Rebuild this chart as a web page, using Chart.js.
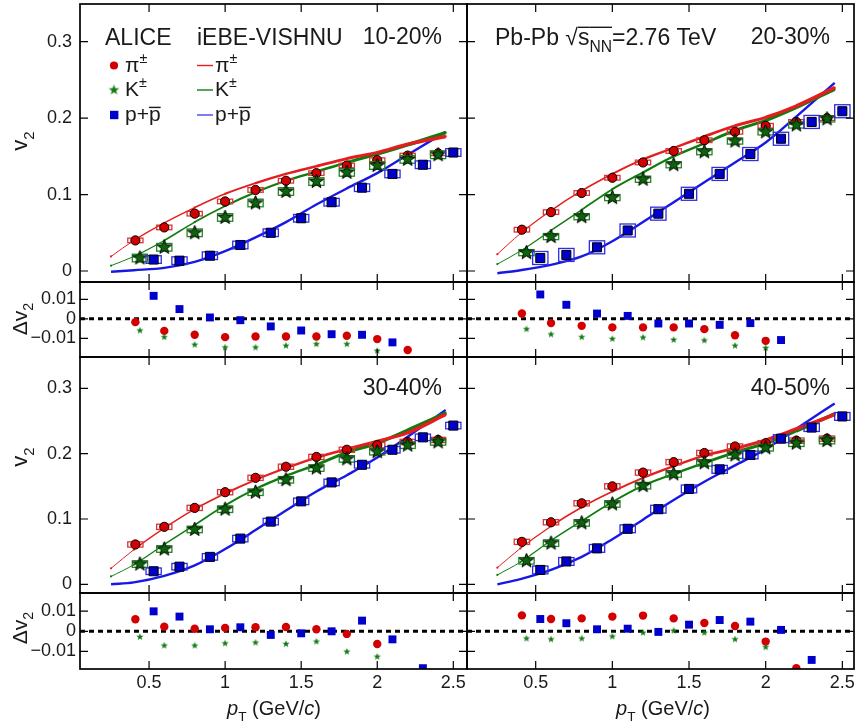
<!DOCTYPE html>
<html lang="en">
  <head>
    <meta charset="UTF-8" />
    <title>v2 of identified hadrons</title>
    <style>
      body { margin: 0; background: #fff; }
      canvas { position: absolute; }
    </style>
  </head>
  <body>
    <script src="https://cdn.jsdelivr.net/npm/chart.js"></script>
    <script>
      // pT bin centres (GeV/c)
      const piPt = [0.41, 0.6, 0.8, 1.0, 1.2, 1.4, 1.6, 1.8, 2.0, 2.2, 2.4];
      const kaPt = [0.44, 0.6, 0.8, 1.0, 1.2, 1.4, 1.6, 1.8, 2.0, 2.2, 2.4];
      const prPt = [0.53, 0.7, 0.9, 1.1, 1.3, 1.5, 1.7, 1.9, 2.1, 2.3, 2.5];
      const modelPt = [0.25, 0.4, 0.6, 0.8, 1.0, 1.2, 1.4, 1.6, 1.8, 2.0, 2.2, 2.45];

      const xTicks = [0.5, 1, 1.5, 2, 2.5];
      const xTickLabels = ['0.5', '1', '1.5', '2', '2.5'];
      const v2Ticks = [0, 0.1, 0.2, 0.3];
      const v2TickLabels = ['0', '0.1', '0.2', '0.3'];
      const dTicks = [-0.01, 0, 0.01];
      const dTickLabels = ['\u22120.01', '0', '0.01'];

      // 10-20%
      const pi1020 = [0.040, 0.057, 0.075, 0.091, 0.106, 0.118, 0.128, 0.138, 0.145, 0.151, 0.154];
      const ka1020 = [0.017, 0.031, 0.050, 0.070, 0.089, 0.104, 0.117, 0.129, 0.138, 0.146, 0.152];
      const pr1020 = [0.015, 0.0135, 0.020, 0.034, 0.050, 0.069, 0.090, 0.109, 0.127, 0.139, 0.155];
      const mPi1020 = [0.019, 0.040, 0.063, 0.083, 0.101, 0.115, 0.127, 0.137, 0.147, 0.155, 0.166, 0.176];
      const mKa1020 = [0.007, 0.019, 0.040, 0.064, 0.085, 0.103, 0.118, 0.130, 0.142, 0.153, 0.165, 0.181];
      const mPr1020 = [-0.001, 0.001, 0.004, 0.012, 0.026, 0.044, 0.064, 0.087, 0.108, 0.128, 0.152, 0.182];
      const dPi1020 = [-0.0017, -0.0062, -0.0082, -0.0094, -0.0091, -0.0091, -0.0091, -0.0087, -0.0104, -0.016];
      const dKa1020 = [-0.006, -0.0094, -0.0133, -0.0147, -0.0147, -0.0138, -0.013, -0.013, -0.0164];
      const dPr1020 = [0.0118, 0.005, 0.0007, -0.0007, -0.0039, -0.006, -0.0079, -0.0082, -0.0121];
      const sys1020 = [0.003, 0.005, 0.005];

      // 20-30%
      const pi2030 = [0.054, 0.077, 0.102, 0.122, 0.142, 0.157, 0.171, 0.182, 0.190, 0.195, 0.200];
      const ka2030 = [0.024, 0.045, 0.071, 0.096, 0.120, 0.139, 0.156, 0.170, 0.182, 0.191, 0.199];
      const pr2030 = [0.017, 0.021, 0.031, 0.053, 0.075, 0.101, 0.127, 0.153, 0.173, 0.195, 0.209];
      const mPi2030 = [0.022, 0.049, 0.079, 0.105, 0.127, 0.146, 0.161, 0.176, 0.190, 0.201, 0.216, 0.240];
      const mKa2030 = [0.009, 0.026, 0.053, 0.080, 0.107, 0.129, 0.150, 0.167, 0.184, 0.197, 0.214, 0.238];
      const mPr2030 = [-0.003, 0.001, 0.008, 0.019, 0.039, 0.064, 0.090, 0.116, 0.142, 0.168, 0.202, 0.246];
      const dPi2030 = [0.0027, -0.0022, -0.0036, -0.0044, -0.0044, -0.0044, -0.0053, -0.0084, -0.0113];
      const dKa2030 = [-0.0053, -0.008, -0.0094, -0.0103, -0.0096, -0.0108, -0.0111, -0.0138, -0.015];
      const dPr2030 = [0.0125, 0.0072, 0.0027, 0.0015, -0.0024, -0.0024, -0.0031, -0.0022, -0.0109];
      const sys2030 = [0.003, 0.004, 0.0085];

      // 30-40%
      const pi3040 = [0.061, 0.088, 0.117, 0.141, 0.163, 0.180, 0.195, 0.206, 0.213, 0.218, 0.221];
      const ka3040 = [0.031, 0.054, 0.084, 0.115, 0.141, 0.160, 0.178, 0.192, 0.203, 0.213, 0.218];
      const pr3040 = [0.020, 0.027, 0.042, 0.070, 0.096, 0.127, 0.156, 0.183, 0.206, 0.225, 0.243];
      const mPi3040 = [0.0245, 0.053, 0.086, 0.115, 0.139, 0.160, 0.178, 0.194, 0.207, 0.219, 0.232, 0.260];
      const mKa3040 = [0.012, 0.030, 0.061, 0.091, 0.121, 0.146, 0.166, 0.183, 0.202, 0.216, 0.236, 0.262];
      const mPr3040 = [0, 0.003, 0.013, 0.029, 0.054, 0.083, 0.113, 0.142, 0.167, 0.194, 0.226, 0.267];
      const dPi3040 = [0.006, 0.0023, 0.0013, 0.0017, 0.002, 0.0021, 0.001, -0.0013, -0.0063];
      const dKa3040 = [-0.0028, -0.0071, -0.0071, -0.006, -0.0056, -0.0063, -0.0051, -0.0101, -0.0126];
      const dPr3040 = [0.0099, 0.0073, 0.001, 0.002, -0.0018, -0.001, 0, 0.0053, -0.004, -0.0183];
      const sys3040 = [0.004, 0.005, 0.005];

      // 40-50%
      const pi4050 = [0.065, 0.095, 0.124, 0.150, 0.171, 0.187, 0.201, 0.211, 0.216, 0.220, 0.223];
      const ka4050 = [0.036, 0.063, 0.094, 0.123, 0.151, 0.169, 0.186, 0.198, 0.209, 0.216, 0.220];
      const pr4050 = [0.022, 0.035, 0.055, 0.085, 0.115, 0.146, 0.176, 0.198, 0.223, 0.240, 0.257];
      const mPi4050 = [0.0255, 0.055, 0.089, 0.118, 0.142, 0.163, 0.181, 0.197, 0.208, 0.221, 0.238, 0.260];
      const mKa4050 = [0.0143, 0.034, 0.067, 0.097, 0.126, 0.151, 0.169, 0.186, 0.202, 0.216, 0.235, 0.261];
      const mPr4050 = [0, 0.008, 0.022, 0.042, 0.069, 0.099, 0.129, 0.157, 0.182, 0.207, 0.238, 0.277];
      const dPi4050 = [0.0079, 0.0061, 0.0064, 0.0073, 0.0078, 0.0064, 0.0041, 0.0026, -0.0051, -0.0183];
      const dKa4050 = [-0.0036, -0.004, -0.0036, -0.0026, -0.0007, 0.0003, -0.0007, -0.004, -0.0079];
      const dPr4050 = [0.0061, 0.004, 0.001, 0.0013, -0.0003, 0.0033, 0.0056, 0.0048, 0.0007, -0.0142];
      const sys4050 = [0.004, 0.005, 0.006];

      const FONT = '"Liberation Sans", Arial, Helvetica, sans-serif';
      const TXT = '#1a1a1a';
      const RED = '#d20000', GREEN = '#0b640b', BLUE = '#0000cc';
      const RED_L = 'rgb(228,30,30)', GREEN_L = 'rgb(16,124,16)', BLUE_L = 'rgb(24,24,230)';
      const TICK = 8;

      Chart.defaults.font.family = FONT;
      Chart.defaults.color = TXT;

      // filled five point star used as a point style
      function star(r, fill, stroke) {
        const lw = stroke ? 1 : 0;
        const s = Math.ceil(2 * r + 2 * lw + 2);
        const c = document.createElement('canvas');
        c.width = s;
        c.height = s;
        const g = c.getContext('2d');
        g.translate(s / 2, s / 2);
        g.beginPath();
        for (let k = 0; k < 10; k++) {
          const rr = k % 2 ? r * 0.42 : r;
          const a = -Math.PI / 2 + (k * Math.PI) / 5;
          g.lineTo(rr * Math.cos(a), rr * Math.sin(a));
        }
        g.closePath();
        g.fillStyle = fill;
        g.fill();
        if (stroke) {
          g.lineWidth = lw;
          g.strokeStyle = stroke;
          g.stroke();
        }
        return c;
      }
      const starBig = star(7.5, GREEN, '#000');
      const starSmall = star(3.8, '#137a13', null);
      const starLeg = star(5.5, '#137a13', null);

      // text with sub/superscripts, italics and overlines
      function rich(ctx, x, y, parts, size, align) {
        const fonts = parts.map(p => (p.i ? 'italic ' : '') + (p.sub || p.sup ? size * 0.68 : size) + 'px ' + FONT);
        let w = 0;
        const ws = parts.map((p, k) => {
          ctx.font = fonts[k];
          const m = ctx.measureText(p.t).width;
          w += m;
          return m;
        });
        let cx = align === 'center' ? x - w / 2 : align === 'right' ? x - w : x;
        ctx.textAlign = 'left';
        ctx.textBaseline = 'alphabetic';
        parts.forEach((p, k) => {
          ctx.font = fonts[k];
          const dy = p.sub ? size * 0.3 : p.sup ? -size * 0.42 : 0;
          ctx.fillText(p.t, cx, y + dy);
          if (p.over) ctx.fillRect(cx, y - size * p.over, ws[k], 1.4);
          cx += ws[k];
        });
      }
      function vTitle(ctx, cx, cy, parts, size) {
        ctx.save();
        ctx.translate(cx, cy);
        ctx.rotate(-Math.PI / 2);
        rich(ctx, 0, 0, parts, size, 'center');
        ctx.restore();
      }

      const sysBoxes = {
        id: 'sysBoxes',
        beforeDatasetDraw(chart, args) {
          const ds = chart.data.datasets[args.index];
          if (!ds.sys) return;
          const { ctx, scales } = chart;
          ctx.save();
          ctx.strokeStyle = ds.sys.color;
          ctx.lineWidth = 1.3;
          ds.data.forEach(p => {
            const l = scales.x.getPixelForValue(p.x - 0.05);
            const r = scales.x.getPixelForValue(p.x + 0.05);
            const t = scales.y.getPixelForValue(p.y + ds.sys.d);
            const b = scales.y.getPixelForValue(p.y - ds.sys.d);
            ctx.strokeRect(l, t, r - l, b - t);
          });
          ctx.restore();
        }
      };

      // frame with inward ticks on all four sides
      function framePlugin(yTicks) {
        return {
          id: 'frame',
          afterDatasetsDraw(chart) {
            const { ctx, chartArea: a, scales } = chart;
            ctx.save();
            ctx.strokeStyle = '#000';
            ctx.lineWidth = 1.2;
            ctx.beginPath();
            xTicks.forEach(v => {
              const px = scales.x.getPixelForValue(v);
              ctx.moveTo(px, a.top);
              ctx.lineTo(px, a.top + TICK);
              ctx.moveTo(px, a.bottom);
              ctx.lineTo(px, a.bottom - TICK);
            });
            yTicks.forEach(v => {
              const py = scales.y.getPixelForValue(v);
              ctx.moveTo(a.left, py);
              ctx.lineTo(a.left + TICK, py);
              ctx.moveTo(a.right, py);
              ctx.lineTo(a.right - TICK, py);
            });
            ctx.stroke();
            ctx.lineWidth = 1.7;
            ctx.strokeRect(a.left, a.top, a.right - a.left, a.bottom - a.top);
            ctx.restore();
          }
        };
      }

      function pts(xs, ys) {
        return ys.map((y, i) => ({ x: xs[i], y: y }));
      }
      function growWidth(ctx) {
        return Math.min(3.6, 0.8 + 1.25 * (ctx.p1.parsed.x - 0.25));
      }

      function mainSets(pi, ka, pr, mPi, mKa, mPr, sys) {
        const model = (ys, color, w, dots) => ({
          type: 'line',
          data: pts(modelPt, ys),
          borderColor: color,
          backgroundColor: color,
          borderWidth: 1,
          pointRadius: dots ? 1.1 : 0,
          pointBorderWidth: 0,
          cubicInterpolationMode: 'monotone',
          fill: false,
          order: 10,
          segment: { borderWidth: w }
        });
        return [
          model(mPi, RED_L, growWidth, true),
          model(mKa, GREEN_L, growWidth, true),
          model(mPr, BLUE_L, () => 2.4, false),
          { data: pts(piPt, pi), pointStyle: 'circle', pointRadius: 4.6, backgroundColor: RED, borderColor: '#000', borderWidth: 1, order: 3, sys: { d: sys[0], color: '#e23232' } },
          { data: pts(kaPt, ka), pointStyle: starBig, pointRadius: 5, order: 2, sys: { d: sys[1], color: '#1f8a1f' } },
          { data: pts(prPt, pr), pointStyle: 'rect', pointRadius: 6.4, backgroundColor: BLUE, borderColor: '#000', borderWidth: 1, order: 1, sys: { d: sys[2], color: '#2d2de6' } }
        ];
      }

      function ratioSets(dPi, dKa, dPr, xr) {
        return [
          { type: 'line', data: [{ x: xr[0], y: 0 }, { x: xr[1], y: 0 }], borderColor: '#000', borderWidth: 3, borderDash: [5, 4], pointRadius: 0, order: 10 },
          { data: pts(piPt, dPi), pointStyle: 'circle', pointRadius: 4.2, backgroundColor: RED, borderWidth: 0, order: 3 },
          { data: pts(kaPt, dKa), pointStyle: starSmall, pointRadius: 3, order: 2 },
          { data: pts(prPt, dPr), pointStyle: 'rect', pointRadius: 5.6, backgroundColor: BLUE, borderWidth: 0, order: 1 }
        ];
      }

      function panel(o) {
        const c = document.createElement('canvas');
        c.width = o.w;
        c.height = o.h;
        c.style.left = o.left + 'px';
        c.style.top = o.top + 'px';
        document.body.appendChild(c);
        const textPlugin = {
          id: 'texts',
          afterDraw(chart) {
            if (!o.draw) return;
            const ctx = chart.ctx;
            ctx.save();
            ctx.translate(-o.left, -o.top);
            ctx.fillStyle = TXT;
            o.draw(ctx);
            ctx.restore();
          }
        };
        const pad = { left: 0, right: 0, top: 0, bottom: 0 };
        const chart = new Chart(c, {
          type: 'scatter',
          data: { datasets: o.datasets },
          options: {
            responsive: false,
            animation: false,
            events: [],
            layout: { padding: pad, autoPadding: false },
            plugins: { legend: { display: false }, tooltip: { enabled: false } },
            scales: {
              x: {
                type: 'linear',
                min: o.xr[0],
                max: o.xr[1],
                display: !!o.xH,
                grid: { display: false, drawTicks: false },
                border: { display: false },
                ticks: {
                  font: { size: 18 },
                  padding: 3,
                  maxRotation: 0,
                  autoSkip: false,
                  callback: v => xTickLabels[xTicks.indexOf(v)]
                },
                afterBuildTicks: s => { s.ticks = xTicks.map(v => ({ value: v })); },
                afterFit: s => {
                  s.paddingLeft = 0;
                  s.paddingRight = 0;
                  if (o.xH) s.height = o.xH;
                }
              },
              y: {
                type: 'linear',
                min: o.yMin,
                max: o.yMax,
                display: !!o.yLabels,
                grid: { display: false, drawTicks: false },
                border: { display: false },
                ticks: {
                  font: { size: 18 },
                  padding: o.yPad,
                  autoSkip: false,
                  callback: v => (o.yLabels ? o.yLabels[o.yTicks.indexOf(v)] : '')
                },
                afterBuildTicks: s => { s.ticks = o.yTicks.map(v => ({ value: v })); },
                afterFit: s => {
                  s.paddingTop = 0;
                  s.paddingBottom = 0;
                  if (o.yLabels) s.width = 80;
                }
              }
            }
          },
          plugins: [sysBoxes, framePlugin(o.yTicks), textPlugin]
        });
        // nudge the padding until the plot area sits on its page position
        for (let k = 0; k < 3; k++) {
          const a = chart.chartArea;
          pad.left += o.area.l - o.left - a.left;
          pad.right += a.right - (o.area.r - o.left);
          pad.top += o.area.t - o.top - a.top;
          pad.bottom += a.bottom - (o.area.b - o.top);
          chart.options.layout.padding = Object.assign({}, pad);
          chart.update('none');
        }
      }

      const v2Title = [{ t: 'v' }, { t: '2', sub: true }];
      const dv2Title = [{ t: '\u0394v' }, { t: '2', sub: true }];
      const ptTitle = [{ t: 'p', i: true }, { t: 'T', sub: true }, { t: ' (GeV/' }, { t: 'c', i: true }, { t: ')' }];

      // the two columns share one border line at x = 467
      const cols = [
        { left: 0, w: 470, l: 80, r: 467, xr: [0.046, 2.59] },
        { left: 462, w: 393, l: 467, r: 854, xr: [0.052, 2.576] }
      ];
      const rows = [
        { top: 0, h: 290, t: 4, b: 282, yMin: -0.0144, yMax: 0.3493, yTicks: v2Ticks, yLabels: v2TickLabels, yPad: 8 },
        { top: 276, h: 87, t: 282, b: 357, yMin: -0.0196, yMax: 0.0189, yTicks: dTicks, yLabels: dTickLabels, yPad: 4 },
        { top: 351, h: 248, t: 357, b: 593, yMin: -0.0133, yMax: 0.348, yTicks: v2Ticks, yLabels: v2TickLabels, yPad: 8 },
        { top: 587, h: 141, t: 593, b: 669, yMin: -0.0187, yMax: 0.019, yTicks: dTicks, yLabels: dTickLabels, yPad: 4, xH: 59 }
      ];

      function legend(ctx) {
        rich(ctx, 105, 45, [{ t: 'ALICE' }], 23);
        rich(ctx, 197, 45, [{ t: 'iEBE-VISHNU' }], 23);
        rich(ctx, 442, 44, [{ t: '10-20%' }], 23, 'right');
        const rowsY = [65.5, 90, 115];
        const names = [
          [{ t: '\u03C0' }, { t: '\u00B1', sup: true }],
          [{ t: 'K' }, { t: '\u00B1', sup: true }],
          [{ t: 'p+' }, { t: 'p', over: 0.68 }]
        ];
        const lineCols = [RED_L, GREEN_L, 'rgb(70,70,235)'];
        ctx.save();
        ctx.fillStyle = RED;
        ctx.beginPath();
        ctx.arc(114, rowsY[0], 4.1, 0, Math.PI * 2);
        ctx.fill();
        ctx.drawImage(starLeg, 114 - starLeg.width / 2, rowsY[1] - starLeg.height / 2);
        ctx.fillStyle = BLUE;
        ctx.fillRect(110, rowsY[2] - 4.2, 8.4, 8.4);
        ctx.lineWidth = 1.4;
        rowsY.forEach((y, k) => {
          ctx.strokeStyle = lineCols[k];
          ctx.beginPath();
          ctx.moveTo(197, y);
          ctx.lineTo(213, y);
          ctx.stroke();
        });
        ctx.restore();
        rowsY.forEach((y, k) => {
          rich(ctx, 125, y + 6, names[k], 21);
          rich(ctx, 215, y + 6, names[k], 21);
        });
      }

      const L = cols[0].xr, R = cols[1].xr;
      const grid = [
        [
          { sets: mainSets(pi1020, ka1020, pr1020, mPi1020, mKa1020, mPr1020, sys1020), draw: ctx => { vTitle(ctx, 27, 141, v2Title, 22); legend(ctx); } },
          { sets: mainSets(pi2030, ka2030, pr2030, mPi2030, mKa2030, mPr2030, sys2030), draw: ctx => {
              rich(ctx, 495, 45, [{ t: 'Pb-Pb ' }, { t: '\u221A' }, { t: 's', over: 0.8 }, { t: 'NN', sub: true, over: 0.8 }, { t: '=2.76 TeV' }], 23);
              rich(ctx, 830, 44, [{ t: '20-30%' }], 23, 'right');
            } }
        ],
        [
          { sets: ratioSets(dPi1020, dKa1020, dPr1020, L), draw: ctx => vTitle(ctx, 27, 319, dv2Title, 21) },
          { sets: ratioSets(dPi2030, dKa2030, dPr2030, R) }
        ],
        [
          { sets: mainSets(pi3040, ka3040, pr3040, mPi3040, mKa3040, mPr3040, sys3040), draw: ctx => { vTitle(ctx, 27, 457, v2Title, 22); rich(ctx, 442, 395, [{ t: '30-40%' }], 23, 'right'); } },
          { sets: mainSets(pi4050, ka4050, pr4050, mPi4050, mKa4050, mPr4050, sys4050), draw: ctx => rich(ctx, 830, 395, [{ t: '40-50%' }], 23, 'right') }
        ],
        [
          { sets: ratioSets(dPi3040, dKa3040, dPr3040, L), draw: ctx => { vTitle(ctx, 27, 628, dv2Title, 21); rich(ctx, 274, 715, ptTitle, 20, 'center'); } },
          { sets: ratioSets(dPi4050, dKa4050, dPr4050, R), draw: ctx => rich(ctx, 663, 715, ptTitle, 20, 'center') }
        ]
      ];

      rows.forEach((r, ri) => {
        cols.forEach((c, ci) => {
          const cell = grid[ri][ci];
          panel({
            left: c.left,
            top: r.top,
            w: c.w,
            h: r.h,
            area: { l: c.l, r: c.r, t: r.t, b: r.b },
            xr: c.xr,
            yMin: r.yMin,
            yMax: r.yMax,
            yTicks: r.yTicks,
            yLabels: ci === 0 ? r.yLabels : null,
            yPad: r.yPad,
            xH: r.xH,
            datasets: cell.sets,
            draw: cell.draw
          });
        });
      });
    </script>
  </body>
</html>
